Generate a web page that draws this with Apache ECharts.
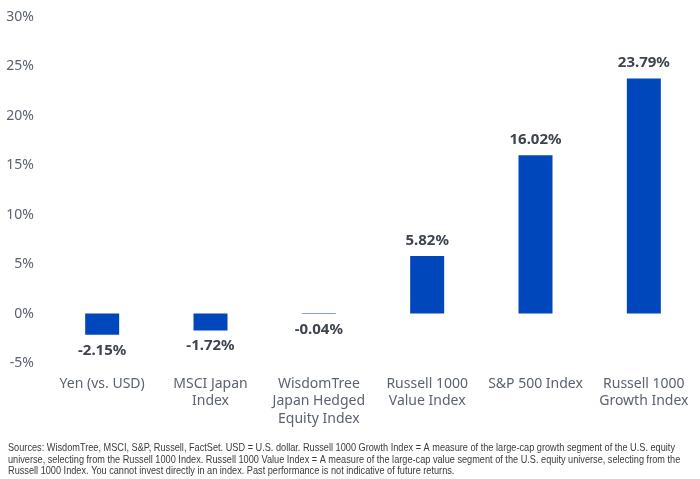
<!DOCTYPE html>
<html><head><meta charset="utf-8">
<script src="https://cdn.jsdelivr.net/npm/echarts@6/dist/echarts.min.js"></script>
<style>html,body{margin:0;padding:0;background:#fff}#c{width:700px;height:479px}</style>
</head><body><div id="c"></div>
<script>
const categories = ['Yen (vs. USD)', 'MSCI Japan\nIndex', 'WisdomTree\nJapan Hedged\nEquity Index', 'Russell 1000\nValue Index', 'S&P 500 Index', 'Russell 1000\nGrowth Index'];
const values = [-2.15, -1.72, -0.04, 5.82, 16.02, 23.79];
const yMin = -5, yMax = 30, yStep = 5;
const footnote = [
  'Sources: WisdomTree, MSCI, S&P, Russell, FactSet. USD = U.S. dollar. Russell 1000 Growth Index = A measure of the large-cap growth segment of the U.S. equity',
  'universe, selecting from the Russell 1000 Index. Russell 1000 Value Index = A measure of the large-cap value segment of the U.S. equity universe, selecting from the',
  'Russell 1000 Index. You cannot invest directly in an index. Past performance is not indicative of future returns.'
];
const footFont = '11px "Liberation Sans", Arial, sans-serif';
const ctx = document.createElement('canvas').getContext('2d');
ctx.font = footFont;
const footScale = 667 / ctx.measureText(footnote[0]).width;

const chart = echarts.init(document.getElementById('c'), null, {renderer: 'canvas'});
chart.setOption({
  animation: false,
  grid: {left: 48, right: 2, top: 17, bottom: 116, containLabel: false},
  xAxis: {
    type: 'category', data: categories,
    axisLine: {show: false}, axisTick: {show: false},
    axisLabel: {interval: 0, color: '#5b6270', fontSize: 14, fontFamily: 'Noto Sans', lineHeight: 17.5, margin: 12}
  },
  yAxis: {
    type: 'value', min: yMin, max: yMax, interval: yStep,
    splitLine: {show: false}, axisLine: {show: false}, axisTick: {show: false},
    axisLabel: {formatter: v => v + '%', color: '#5b6270', fontSize: 14, fontFamily: 'Noto Sans', margin: 14}
  },
  series: [{
    type: 'bar', barWidth: 34,
    data: values.map(v => v < 0 ? {value: v, label: {position: 'bottom'}} : v),
    itemStyle: {color: '#0047BB'},
    label: {
      show: true, position: 'top', distance: 8,
      formatter: p => p.value.toFixed(2) + '%',
      color: '#3d4450', fontSize: 15, fontWeight: 'bold', fontFamily: 'Noto Sans'
    }
  }],
  graphic: footnote.map((t, i) => ({
    type: 'text', x: 8, y: 448.3 + i * 11.2, scaleX: footScale,
    style: {text: t, fill: '#3a3a3a', font: footFont, textVerticalAlign: 'middle'}
  }))
});
</script></body></html>
